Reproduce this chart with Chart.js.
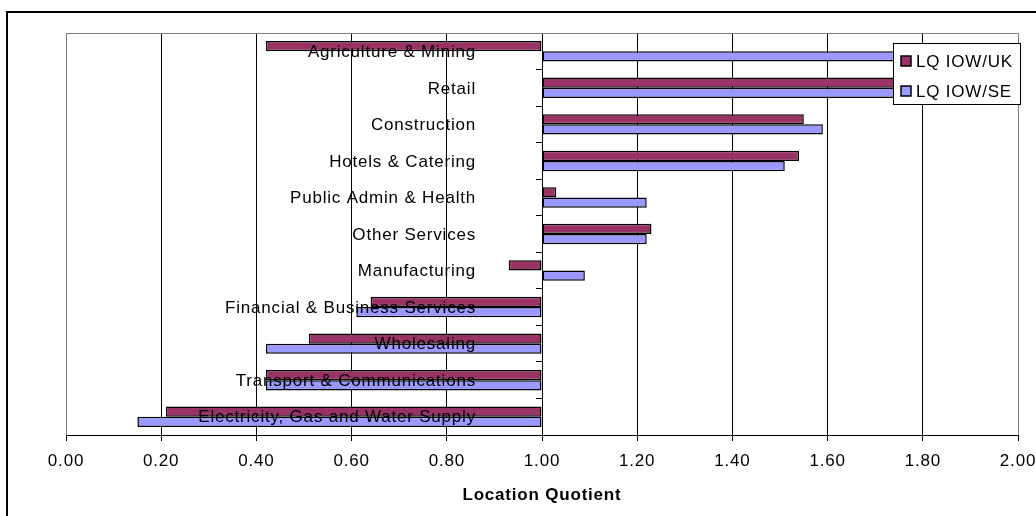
<!DOCTYPE html>
<html>
<head>
<meta charset="utf-8">
<title>Location Quotient by sector</title>
<script src="https://cdn.jsdelivr.net/npm/chart.js@4.4.1/dist/chart.umd.min.js"></script>
<style>
  html, body { margin: 0; padding: 0; background: #fff; overflow: hidden; }
  #frame { position: absolute; left: 6px; top: 11px; width: 1100px; height: 600px;
           border-left: 2px solid #000; border-top: 2px solid #000; }
  #wrap { position: absolute; left: 0; top: 0; width: 1036px; height: 516px; }
</style>
</head>
<body>
<div id="frame"></div>
<div id="wrap"><canvas id="lqChart"></canvas></div>
<script>
// sectors, top to bottom
const sectors = [
    'Agriculture & Mining',
    'Retail',
    'Construction',
    'Hotels & Catering',
    'Public Admin & Health',
    'Other Services',
    'Manufacturing',
    'Financial & Business Services',
    'Wholesaling',
    'Transport & Communications',
    'Electricity, Gas and Water Supply'
];
const lqUK = [0.42, 1.78, 1.55, 1.54, 1.03, 1.23, 0.93, 0.64, 0.51, 0.42, 0.21];
const lqSE = [1.83, 1.74, 1.59, 1.51, 1.22, 1.22, 1.09, 0.61, 0.42, 0.42, 0.15];
const seriesNames = ['LQ IOW/UK', 'LQ IOW/SE'];
const axisMin = 0, axisMax = 2, axisStep = 0.2;
const baseline = 1;   // bars grow from LQ = 1

const FONT = "'Liberation Sans', Arial, sans-serif";
const FONT_SIZE = 17;
const SPACING = '0.8px';

Chart.defaults.font.family = FONT;
Chart.defaults.font.size = FONT_SIZE;
Chart.defaults.color = '#000';

// slightly wider glyph spacing, like the old office charts
const textSpacing = {
    id: 'textSpacing',
    beforeUpdate(chart) { chart.ctx.letterSpacing = SPACING; },
    beforeDraw(chart) { chart.ctx.letterSpacing = SPACING; }
};

// grey top edge of the plot area
const plotFrame = {
    id: 'plotFrame',
    beforeDatasetsDraw(chart) {
        const {ctx, chartArea: a} = chart;
        ctx.save();
        ctx.strokeStyle = '#808080';
        ctx.lineWidth = 1;
        ctx.beginPath();
        ctx.moveTo(a.left, a.top + 0.5);
        ctx.lineTo(a.right, a.top + 0.5);
        ctx.stroke();
        ctx.restore();
    }
};

// sector names sit left of the 1.00 line, over the bars
const sectorLabels = {
    id: 'sectorLabels',
    afterDatasetsDraw(chart) {
        const {ctx, scales: {x, y}} = chart;
        const right = x.getPixelForValue(baseline) - 66;
        ctx.save();
        ctx.letterSpacing = SPACING;
        ctx.font = FONT_SIZE + 'px ' + FONT;
        ctx.fillStyle = '#000';
        ctx.textAlign = 'right';
        ctx.textBaseline = 'middle';
        chart.data.labels.forEach((label, i) => {
            ctx.fillText(label, right, y.getPixelForValue(i) + 1);
        });
        ctx.restore();
    }
};

// boxed legend in the top right corner of the plot
const legendBox = {
    id: 'legendBox',
    afterDraw(chart) {
        const {ctx, chartArea: a} = chart;
        const w = 127, h = 61;
        const left = Math.round(a.right) - 125, top = Math.round(a.top) + 10;
        ctx.save();
        ctx.letterSpacing = SPACING;
        ctx.fillStyle = '#fff';
        ctx.fillRect(left, top, w, h);
        ctx.strokeStyle = '#000';
        ctx.lineWidth = 1;
        ctx.strokeRect(left + 0.5, top + 0.5, w, h);
        ctx.font = FONT_SIZE + 'px ' + FONT;
        ctx.textBaseline = 'middle';
        chart.data.datasets.forEach((ds, i) => {
            const cy = top + 18 + i * 30;
            ctx.fillStyle = ds.backgroundColor;
            ctx.fillRect(left + 8, cy - 5, 10, 10);
            ctx.lineWidth = 1.5;
            ctx.strokeRect(left + 8, cy - 5, 10, 10);
            ctx.fillStyle = '#000';
            ctx.fillText(ds.label, left + 23, cy + 1);
        });
        ctx.restore();
    }
};

const isEdge = v => Math.abs(v - axisMin) < 1e-6 || Math.abs(v - axisMax) < 1e-6;

new Chart(document.getElementById('lqChart'), {
    type: 'bar',
    data: {
        labels: sectors,
        datasets: [{
            label: seriesNames[0],
            data: lqUK,
            base: baseline,
            backgroundColor: '#993366',
            borderColor: '#000',
            borderWidth: 1.5,
            borderSkipped: false
        }, {
            label: seriesNames[1],
            data: lqSE,
            base: baseline,
            backgroundColor: '#9999FF',
            borderColor: '#000',
            borderWidth: 1.5,
            borderSkipped: false
        }]
    },
    options: {
        indexAxis: 'y',
        responsive: true,
        maintainAspectRatio: false,
        animation: false,
        categoryPercentage: 0.56,
        barPercentage: 1.0,
        layout: { padding: { left: 66, top: 33, right: 18, bottom: 0 } },
        plugins: {
            legend: { display: false },
            tooltip: { enabled: false }
        },
        scales: {
            x: {
                type: 'linear',
                position: 'bottom',
                min: axisMin,
                max: axisMax,
                ticks: {
                    stepSize: axisStep,
                    padding: 10,
                    callback: v => v.toFixed(2)
                },
                grid: {
                    color: c => (c.tick && isEdge(c.tick.value)) ? '#808080' : '#000',
                    tickColor: '#000',
                    tickLength: 6,
                    lineWidth: 1
                },
                border: { color: '#000', width: 1 },
                title: {
                    display: true,
                    text: 'Location Quotient',
                    font: { size: FONT_SIZE, weight: 'bold' },
                    padding: { top: 0, bottom: 10 }
                },
                afterFit(scale) {
                    scale.height = 81;
                    scale.paddingLeft = 0;
                    scale.paddingRight = 0;
                }
            },
            y: {
                type: 'category',
                position: { x: baseline },
                z: 1,
                ticks: { display: false },
                grid: {
                    drawOnChartArea: false,
                    offset: true,
                    color: '#000',
                    tickLength: 6
                },
                border: { color: '#000', width: 1 }
            }
        }
    },
    plugins: [textSpacing, plotFrame, sectorLabels, legendBox]
});
</script>
</body>
</html>
